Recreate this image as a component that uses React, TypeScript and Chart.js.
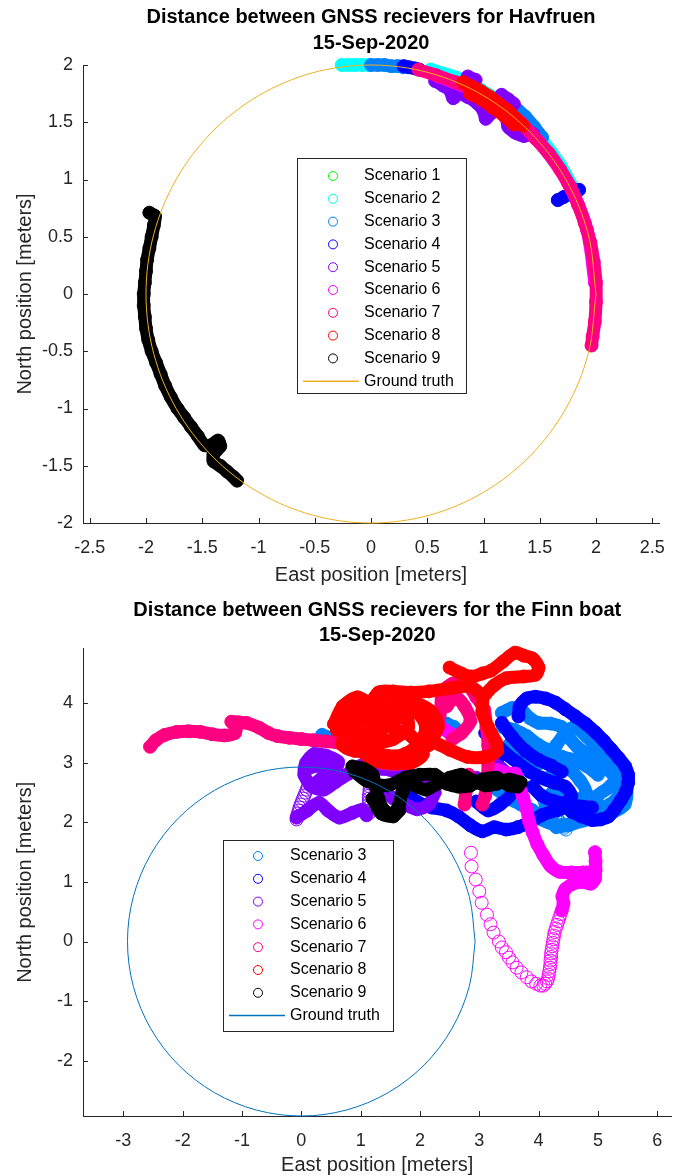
import { useEffect, useRef } from 'react';
import { Chart, registerables } from 'chart.js';

Chart.register(...registerables);

type Pt = [number, number];

const FONT = '"Liberation Sans", Arial, Helvetica, sans-serif';
const AXIS_COLOR = '#262626';

// ---------- colours ----------
const COLOR_S1 = '#00FF00';
const COLOR_S2 = '#00FFFF';
const COLOR_S3 = '#0080FF';
const COLOR_S4 = '#0000FF';
const COLOR_S5 = '#8000FF';
const COLOR_S6 = '#FF00FF';
const COLOR_S7 = '#FF0080';
const COLOR_S8 = '#FF0000';
const COLOR_S9 = '#000000';
const HAV_TRUTH_COLOR = '#EDB120';
const FINN_TRUTH_COLOR = '#0072BD';

// ================= Havfruen (top chart) =================
const HAV_TITLE = ['Distance between GNSS recievers for Havfruen', '15-Sep-2020'];
const HAV_X_TICKS = [-2.5, -2, -1.5, -1, -0.5, 0, 0.5, 1, 1.5, 2, 2.5];
const HAV_Y_TICKS = [-2, -1.5, -1, -0.5, 0, 0.5, 1, 1.5, 2];
const HAV_X_RANGE = [-2.56, 2.56];
const HAV_Y_RANGE = [-2, 2];

const HAV_S1: Pt[] = [[1.18, 1.62], [1.3, 1.52], [1.42, 1.41], [1.53, 1.29], [1.63, 1.16]];
const HAV_S2_TOP: Pt[] = [[-0.26, 2.0], [-0.2, 2.0], [-0.14, 2.0], [-0.08, 2.0], [-0.02, 2.0]];
const HAV_S2_ARC: Pt[] = [[0.53, 1.96], [0.76, 1.89], [0.98, 1.78], [1.17, 1.66], [1.36, 1.5], [1.53, 1.33], [1.68, 1.13], [1.8, 0.92]];
const HAV_S3_TOP: Pt[] = [[0.0, 2.0], [0.06, 2.0], [0.12, 2.0], [0.18, 1.99], [0.24, 1.99], [0.29, 1.98]];
const HAV_S3_ARC: Pt[] = [[1.3, 1.61], [1.37, 1.55], [1.45, 1.46], [1.52, 1.37]];
const HAV_S4_TOP: Pt[] = [[0.29, 1.99], [0.34, 1.98], [0.39, 1.97], [0.43, 1.96]];
const HAV_S4_BLOB: Pt[] = [[1.66, 0.82], [1.71, 0.845], [1.76, 0.87], [1.81, 0.89], [1.85, 0.91]];
const HAV_S5_MAIN: Pt[] = [[0.57, 1.86], [0.64, 1.82], [0.7, 1.78], [0.73, 1.71], [0.78, 1.75], [0.86, 1.72], [0.94, 1.67], [1.0, 1.6], [1.02, 1.53], [1.07, 1.58], [1.14, 1.6], [1.2, 1.54], [1.22, 1.46], [1.28, 1.41], [1.36, 1.38], [1.44, 1.4]];
const HAV_S5_EDGE_A: Pt[] = [[0.86, 1.9], [0.93, 1.87]];
const HAV_S5_EDGE_B: Pt[] = [[1.16, 1.74], [1.22, 1.7], [1.27, 1.66]];
const HAV_S6: Pt[] = [[0.6, 1.9], [0.9, 1.78], [1.2, 1.6], [1.5, 1.32], [1.75, 0.97], [1.92, 0.56], [1.99, 0.1]];
const HAV_S7: Pt[] = [[0.42, 1.96], [0.58, 1.91], [0.75, 1.85], [0.91, 1.78], [1.06, 1.7], [1.2, 1.6], [1.34, 1.49], [1.46, 1.36], [1.58, 1.23], [1.68, 1.09], [1.77, 0.94], [1.84, 0.78], [1.9, 0.62], [1.95, 0.45], [1.98, 0.28], [2.0, 0.1], [2.0, -0.07], [1.99, -0.24], [1.97, -0.37], [1.96, -0.45]];
const HAV_S8_A: Pt[] = [[0.82, 1.85], [0.9, 1.81], [0.98, 1.77], [1.06, 1.72], [1.14, 1.66], [1.22, 1.6], [1.29, 1.53], [1.35, 1.47]];
const HAV_S8_B: Pt[] = [[0.88, 1.75], [0.98, 1.7], [1.08, 1.63], [1.18, 1.56], [1.27, 1.48]];
const HAV_S9: Pt[] = [[-1.97, 0.71], [-1.92, 0.68], [-1.93, 0.6], [-1.95, 0.5], [-1.97, 0.4], [-1.99, 0.3], [-2.0, 0.2], [-2.01, 0.1], [-2.02, 0.0], [-2.02, -0.1], [-2.01, -0.2], [-2.0, -0.3], [-1.98, -0.4], [-1.95, -0.5], [-1.91, -0.6], [-1.87, -0.7], [-1.83, -0.8], [-1.78, -0.9], [-1.72, -1.0], [-1.66, -1.08], [-1.6, -1.16], [-1.54, -1.24], [-1.48, -1.32], [-1.42, -1.32], [-1.36, -1.28], [-1.34, -1.33], [-1.4, -1.4], [-1.4, -1.46], [-1.34, -1.5], [-1.28, -1.55], [-1.22, -1.6], [-1.19, -1.63]];
const HAV_TRUTH: Pt[] = [[2, 0], [1.932, 0.518], [1.732, 1], [1.414, 1.414], [1, 1.732], [0.518, 1.932], [0, 2], [-0.518, 1.932], [-1, 1.732], [-1.414, 1.414], [-1.732, 1], [-1.932, 0.518], [-2, 0], [-1.932, -0.518], [-1.732, -1], [-1.414, -1.414], [-1, -1.732], [-0.518, -1.932], [0, -2], [0.518, -1.932], [1, -1.732], [1.414, -1.414], [1.732, -1], [1.932, -0.518], [2, 0]];

// ================= Finn boat (bottom chart) =================
const FINN_TITLE = ['Distance between GNSS recievers for the Finn boat', '15-Sep-2020'];
const FINN_X_TICKS = [-3, -2, -1, 0, 1, 2, 3, 4, 5, 6];
const FINN_Y_TICKS = [-2, -1, 0, 1, 2, 3, 4];
const FINN_X_RANGE = [-3.68, 6.24];
const FINN_Y_RANGE = [-2.93, 4.92];

const FINN_S3_A: Pt[] = [[3.38, 3.84], [3.55, 3.92], [3.7, 3.9], [3.85, 3.75], [4.0, 3.67], [4.2, 3.66], [4.39, 3.6], [4.5, 3.44], [4.67, 3.25], [4.9, 3.12], [5.1, 2.95], [5.3, 2.75], [5.48, 2.55], [5.45, 2.3], [5.25, 2.17], [5.0, 2.08], [4.75, 2.03], [4.5, 1.95], [4.3, 1.92]];
const FINN_S3_B: Pt[] = [[4.12, 2.72], [4.3, 2.85], [4.5, 2.9], [4.7, 2.7], [4.8, 2.5], [4.65, 2.38], [4.45, 2.45], [4.3, 2.55], [4.15, 2.4], [4.1, 2.2]];
const FINN_S3_C: Pt[] = [[3.4, 3.6], [3.6, 3.55], [3.8, 3.45], [4.0, 3.3], [4.2, 3.2], [4.4, 3.1], [4.6, 3.05], [4.8, 2.95], [5.0, 2.8]];
const FINN_S3_G: Pt[] = [[3.5, 3.3], [3.7, 3.1], [3.9, 2.95], [4.1, 3.05], [4.3, 3.3], [4.45, 3.5], [4.6, 3.6], [4.8, 3.45], [5.0, 3.25], [5.2, 3.05], [5.35, 2.85], [5.2, 2.6], [5.0, 2.45], [4.95, 2.25], [5.2, 2.3], [5.4, 2.5]];
const FINN_S3_H: Pt[] = [[3.3, 2.55], [3.5, 2.4], [3.7, 2.3], [3.9, 2.2], [4.05, 2.05], [4.25, 1.97], [4.55, 1.98], [4.8, 2.12], [5.0, 2.3]];
const FINN_S3_D: Pt[] = [[0.35, 3.47], [0.5, 3.42]];
const FINN_S3_E: Pt[] = [[2.45, 3.66], [2.58, 3.6]];
const FINN_S3_F: Pt[] = [[2.15, 3.88], [2.25, 3.84]];
const FINN_S3_LADDER: Pt[] = [[4.1, 2.35], [4.13, 2.31], [4.16, 2.27], [4.19, 2.23], [4.22, 2.19], [4.25, 2.15], [4.28, 2.11], [4.31, 2.07], [4.34, 2.03], [4.37, 1.99], [4.4, 1.95], [4.43, 1.91], [4.46, 1.88]];

const FINN_S4_A: Pt[] = [[3.66, 3.78], [3.68, 3.95], [3.8, 4.08], [3.95, 4.11], [4.12, 4.08], [4.29, 4.01], [4.45, 3.9], [4.62, 3.78], [4.8, 3.65], [4.96, 3.51], [5.1, 3.37], [5.23, 3.22], [5.35, 3.08], [5.46, 2.94], [5.51, 2.8], [5.51, 2.67], [5.47, 2.52], [5.39, 2.38], [5.28, 2.22], [5.18, 2.1], [5.05, 2.05], [4.9, 2.04], [4.72, 2.1], [4.55, 2.18]];
const FINN_S4_B: Pt[] = [[3.1, 3.5], [3.25, 3.35], [3.45, 3.15], [3.65, 3.0], [3.85, 2.85], [4.05, 2.75], [4.25, 2.67], [4.45, 2.6], [4.55, 2.45], [4.45, 2.33], [4.25, 2.36], [4.05, 2.45], [3.9, 2.6]];
const FINN_S4_C: Pt[] = [[3.38, 3.67], [3.55, 3.44], [3.78, 3.2], [4.0, 3.05], [4.22, 2.95], [4.39, 2.85]];
const FINN_S4_LOW: Pt[] = [[1.75, 2.5], [1.95, 2.35], [2.2, 2.25], [2.45, 2.2], [2.65, 2.1], [2.85, 1.95], [3.05, 1.85], [3.25, 1.92], [3.45, 1.88], [3.65, 1.92], [3.85, 2.0], [4.05, 2.12], [4.3, 2.2], [4.6, 2.28], [4.9, 2.25]];
const FINN_S4_MID: Pt[] = [[2.95, 2.35], [3.15, 2.2], [3.35, 2.3], [3.55, 2.5], [3.45, 2.75], [3.3, 3.0]];

const FINN_S5_LOW: Pt[] = [[-0.08, 2.08], [0.1, 2.2], [0.3, 2.33], [0.45, 2.2], [0.64, 2.08], [0.86, 2.16], [1.03, 2.21], [1.1, 2.12]];
const FINN_S5_LADDER_L: Pt[] = [[-0.08, 2.05], [-0.07, 2.1], [-0.06, 2.15], [-0.04, 2.2], [-0.03, 2.25], [-0.01, 2.3], [0.01, 2.35], [0.03, 2.4], [0.05, 2.45], [0.07, 2.5], [0.09, 2.55], [0.11, 2.6]];
const FINN_S5_LADDER_R: Pt[] = [[1.14, 2.15], [1.14, 2.2], [1.14, 2.25], [1.14, 2.3], [1.14, 2.35], [1.14, 2.4], [1.14, 2.45], [1.15, 2.5], [1.15, 2.55], [1.16, 2.6], [1.17, 2.65]];
const FINN_S5_BLOB: Pt[] = [[0.15, 2.62], [0.05, 2.8], [0.08, 3.0], [0.22, 3.15], [0.42, 3.12], [0.62, 3.02], [0.55, 2.85], [0.35, 2.75], [0.2, 2.6], [0.38, 2.55], [0.58, 2.68], [0.8, 2.82], [1.0, 2.95]];
const FINN_S5_FILL: Pt[] = [[0.1, 2.9], [0.3, 2.95], [0.5, 2.9], [0.4, 2.7]];
const FINN_S5_MID: Pt[] = [[1.2, 2.9], [1.5, 2.88], [1.8, 2.8], [2.1, 2.72], [2.4, 2.72], [2.7, 2.75], [2.95, 2.75]];
const FINN_S5_LOWMID: Pt[] = [[1.4, 2.55], [1.55, 2.4], [1.75, 2.3], [1.95, 2.22], [2.15, 2.3], [2.25, 2.5]];
const FINN_S5_RIGHT: Pt[] = [[3.2, 3.02], [3.38, 2.9], [3.5, 2.8]];

const FINN_S6_A: Pt[] = [[3.3, 2.88], [3.48, 2.82], [3.61, 2.82], [3.67, 2.62], [3.74, 2.42], [3.8, 2.22], [3.84, 2.02], [3.9, 1.83], [3.98, 1.63], [4.08, 1.45], [4.2, 1.27], [4.35, 1.17], [4.55, 1.16], [4.75, 1.16], [4.9, 1.17]];
const FINN_S6_B: Pt[] = [[4.95, 1.5], [4.96, 1.35], [4.96, 1.2], [4.95, 1.05], [4.88, 0.97], [4.72, 1.0], [4.56, 0.96], [4.45, 0.88], [4.4, 0.76], [4.42, 0.64], [4.39, 0.52]];
const FINN_S6_C: Pt[] = [[2.1, 3.55], [2.3, 3.62], [2.5, 3.5]];
const FINN_S6_HATCH: Pt[] = [[4.37, 0.46], [4.35, 0.4], [4.33, 0.34], [4.31, 0.28], [4.29, 0.22], [4.27, 0.16], [4.26, 0.1], [4.25, 0.04], [4.24, -0.02], [4.23, -0.08], [4.22, -0.14], [4.21, -0.2], [4.21, -0.26], [4.2, -0.32], [4.2, -0.38], [4.19, -0.44], [4.18, -0.5], [4.17, -0.56], [4.16, -0.62], [4.14, -0.67], [4.11, -0.71], [4.08, -0.74]];
const FINN_S6_SPARSE: Pt[] = [[2.86, 1.49], [2.87, 1.26], [2.94, 1.04], [3.0, 0.84], [3.04, 0.65], [3.13, 0.45], [3.19, 0.29], [3.24, 0.15], [3.33, 0.0], [3.38, -0.1], [3.45, -0.18], [3.5, -0.27], [3.56, -0.35], [3.63, -0.44], [3.71, -0.52], [3.8, -0.6], [3.88, -0.67], [3.96, -0.71], [4.03, -0.74]];

const FINN_S7_MAIN: Pt[] = [[-2.55, 3.27], [-2.45, 3.38], [-2.3, 3.47], [-2.1, 3.52], [-1.9, 3.53], [-1.7, 3.52], [-1.5, 3.48], [-1.3, 3.46], [-1.12, 3.5], [-1.1, 3.6], [-1.18, 3.69], [-1.05, 3.68], [-0.92, 3.67], [-0.71, 3.59], [-0.55, 3.5], [-0.4, 3.45], [-0.2, 3.42], [0.0, 3.4], [0.2, 3.38], [0.42, 3.36], [0.65, 3.33], [0.9, 3.25], [1.15, 3.1], [1.35, 3.0], [1.6, 2.98], [1.9, 3.1], [2.15, 3.35], [2.3, 3.6], [2.35, 3.9], [2.38, 4.18], [2.55, 4.33], [2.8, 4.3], [2.95, 4.1], [3.08, 3.9], [3.12, 3.6], [3.15, 3.3], [3.15, 3.0], [3.13, 2.7], [3.1, 2.45], [3.05, 2.3]];
const FINN_S7_TOP: Pt[] = [[2.45, 3.95], [2.6, 4.1], [2.75, 3.95], [2.85, 3.7], [2.7, 3.5], [2.55, 3.4]];
const FINN_S7_LOW: Pt[] = [[2.75, 2.3], [2.78, 2.55], [2.82, 2.8]];

const FINN_S8_A: Pt[] = [[0.6, 3.55], [0.65, 3.75], [0.85, 3.85], [1.05, 4.0], [1.3, 4.05], [1.2, 3.85], [0.95, 3.7], [0.75, 3.5], [0.7, 3.3], [0.9, 3.2], [1.15, 3.2], [1.45, 3.12], [1.75, 3.15], [2.0, 3.35], [2.1, 3.6], [1.95, 3.85], [1.7, 3.95], [1.45, 3.85], [1.2, 3.6], [1.0, 3.45], [1.25, 3.35], [1.55, 3.4], [1.8, 3.6], [1.75, 3.8], [1.5, 3.65], [1.3, 3.55], [1.1, 3.8], [1.3, 4.18], [1.55, 4.2], [1.85, 4.18], [2.15, 4.2], [2.5, 4.25], [2.85, 4.28], [3.05, 4.1], [3.05, 3.85], [3.15, 3.6], [3.28, 3.35], [3.3, 3.2], [3.1, 3.1], [2.8, 3.1], [2.5, 3.22], [2.2, 3.35], [1.95, 3.3]];
const FINN_S8_B: Pt[] = [[2.5, 4.6], [2.7, 4.5], [2.87, 4.45], [3.05, 4.5], [3.2, 4.55], [3.4, 4.7], [3.6, 4.85], [3.75, 4.8], [3.9, 4.75], [4.0, 4.6], [3.95, 4.48], [3.75, 4.45], [3.45, 4.42], [3.25, 4.3], [3.1, 4.15]];
const FINN_S8_C: Pt[] = [[0.55, 3.65], [0.7, 3.95], [0.95, 4.1], [1.2, 3.95], [1.4, 3.75], [1.6, 3.55], [1.85, 3.45], [2.05, 3.15], [1.85, 3.0], [1.5, 3.0], [1.2, 3.05], [0.9, 3.35], [0.75, 3.7], [1.0, 3.9], [1.35, 3.95], [1.6, 4.05], [1.95, 4.0], [2.2, 3.85], [2.3, 3.6], [2.15, 3.3]];

const FINN_S9_A: Pt[] = [[0.86, 2.94], [1.05, 2.9], [1.2, 2.8], [1.25, 2.6], [1.3, 2.4], [1.4, 2.2], [1.55, 2.15], [1.65, 2.3], [1.7, 2.5], [1.8, 2.65], [1.95, 2.6], [2.1, 2.55], [2.3, 2.65], [2.5, 2.75], [2.7, 2.8], [2.9, 2.7], [3.1, 2.62], [3.3, 2.65], [3.5, 2.72], [3.7, 2.67]];
const FINN_S9_B: Pt[] = [[0.9, 2.85], [1.1, 2.7], [1.45, 2.62], [1.75, 2.75], [2.0, 2.8], [2.25, 2.8], [2.45, 2.65], [2.65, 2.6], [2.85, 2.62], [3.05, 2.72], [3.3, 2.75], [3.5, 2.62], [3.65, 2.6]];
const FINN_S9_C: Pt[] = [[1.2, 2.4], [1.35, 2.15], [1.55, 2.1], [1.65, 2.2]];

const FINN_TRUTH: Pt[] = [[2.93, 0], [2.83, 0.758], [2.537, 1.465], [2.072, 2.072], [1.465, 2.537], [0.758, 2.83], [0, 2.93], [-0.758, 2.83], [-1.465, 2.537], [-2.072, 2.072], [-2.537, 1.465], [-2.83, 0.758], [-2.93, 0], [-2.83, -0.758], [-2.537, -1.465], [-2.072, -2.072], [-1.465, -2.537], [-0.758, -2.83], [0, -2.93], [0.758, -2.83], [1.465, -2.537], [2.072, -2.072], [2.537, -1.465], [2.83, -0.758], [2.93, 0]];

// ---------- series tables ----------
interface Series { label: string; color: string; bands: Pt[][]; rings: Pt[][] }

const HAV_SERIES: Series[] = [
  { label: 'Scenario 1', color: COLOR_S1, bands: [HAV_S1], rings: [] },
  { label: 'Scenario 2', color: COLOR_S2, bands: [HAV_S2_TOP, HAV_S2_ARC], rings: [] },
  { label: 'Scenario 3', color: COLOR_S3, bands: [HAV_S3_TOP, HAV_S3_ARC], rings: [] },
  { label: 'Scenario 4', color: COLOR_S4, bands: [HAV_S4_TOP, HAV_S4_BLOB], rings: [] },
  { label: 'Scenario 5', color: COLOR_S5, bands: [HAV_S5_MAIN, HAV_S5_EDGE_A, HAV_S5_EDGE_B], rings: [] },
  { label: 'Scenario 6', color: COLOR_S6, bands: [HAV_S6], rings: [] },
  { label: 'Scenario 7', color: COLOR_S7, bands: [HAV_S7], rings: [] },
  { label: 'Scenario 8', color: COLOR_S8, bands: [HAV_S8_A, HAV_S8_B], rings: [] },
  { label: 'Scenario 9', color: COLOR_S9, bands: [HAV_S9], rings: [] },
];

const FINN_SERIES: Series[] = [
  { label: 'Scenario 3', color: COLOR_S3, bands: [FINN_S3_A, FINN_S3_B, FINN_S3_C, FINN_S3_G, FINN_S3_H, FINN_S3_D, FINN_S3_E, FINN_S3_F], rings: [FINN_S3_LADDER] },
  { label: 'Scenario 4', color: COLOR_S4, bands: [FINN_S4_A, FINN_S4_B, FINN_S4_C, FINN_S4_LOW, FINN_S4_MID], rings: [] },
  { label: 'Scenario 5', color: COLOR_S5, bands: [FINN_S5_LOW, FINN_S5_BLOB, FINN_S5_FILL, FINN_S5_MID, FINN_S5_LOWMID, FINN_S5_RIGHT], rings: [FINN_S5_LADDER_L, FINN_S5_LADDER_R] },
  { label: 'Scenario 6', color: COLOR_S6, bands: [FINN_S6_A, FINN_S6_B, FINN_S6_C], rings: [FINN_S6_HATCH, FINN_S6_SPARSE] },
  { label: 'Scenario 7', color: COLOR_S7, bands: [FINN_S7_MAIN, FINN_S7_TOP, FINN_S7_LOW], rings: [] },
  { label: 'Scenario 8', color: COLOR_S8, bands: [FINN_S8_A, FINN_S8_B, FINN_S8_C], rings: [] },
  { label: 'Scenario 9', color: COLOR_S9, bands: [FINN_S9_A, FINN_S9_B, FINN_S9_C], rings: [] },
];

// ---------- helpers ----------
const toXY = (pts: Pt[]) => pts.map(([x, y]) => ({ x, y }));

function buildDatasets(series: Series[], truth: Pt[], truthColor: string) {
  const ds: any[] = [];
  series.forEach((s) => {
    s.bands.forEach((b) =>
      ds.push({
        data: toXY(b),
        showLine: true,
        borderColor: s.color,
        backgroundColor: 'transparent',
        borderWidth: 13,
        borderJoinStyle: 'round',
        borderCapStyle: 'round',
        tension: 0.3,
        capBezierPoints: false,
        pointRadius: 6.5,
        pointBorderWidth: 1,
        pointBorderColor: s.color,
        pointBackgroundColor: 'transparent',
        clip: false,
      })
    );
    s.rings.forEach((b) =>
      ds.push({
        data: toXY(b),
        showLine: false,
        borderColor: s.color,
        backgroundColor: 'transparent',
        pointRadius: 6.5,
        pointBorderWidth: 1,
        pointBorderColor: s.color,
        pointBackgroundColor: 'transparent',
        clip: false,
      })
    );
  });
  ds.push({
    data: toXY(truth),
    showLine: true,
    borderColor: truthColor,
    backgroundColor: 'transparent',
    borderWidth: 1,
    tension: 0.338,
    capBezierPoints: false,
    pointRadius: 0,
    clip: false,
  });
  ds.forEach((d, i) => (d.order = ds.length - i));
  return ds;
}

const innerTicksPlugin = {
  id: 'innerTicks',
  afterDraw(chart: any) {
    const { ctx, chartArea, scales } = chart;
    ctx.save();
    ctx.strokeStyle = AXIS_COLOR;
    ctx.lineWidth = 1;
    ctx.beginPath();
    scales.x.ticks.forEach((t: any) => {
      const px = Math.round(scales.x.getPixelForValue(t.value)) + 0.5;
      ctx.moveTo(px, chartArea.bottom);
      ctx.lineTo(px, chartArea.bottom - 5);
    });
    scales.y.ticks.forEach((t: any) => {
      const py = Math.round(scales.y.getPixelForValue(t.value)) + 0.5;
      ctx.moveTo(chartArea.left, py);
      ctx.lineTo(chartArea.left + 5, py);
    });
    ctx.stroke();
    ctx.restore();
  },
};

const boxLegendPlugin = {
  id: 'boxLegend',
  afterDraw(chart: any, _args: any, opts: any) {
    const { ctx } = chart;
    const [x1, y1, x2, y2] = opts.box;
    ctx.save();
    ctx.fillStyle = '#ffffff';
    ctx.fillRect(x1, y1, x2 - x1, y2 - y1);
    ctx.strokeStyle = AXIS_COLOR;
    ctx.lineWidth = 1;
    ctx.strokeRect(x1 + 0.5, y1 + 0.5, x2 - x1, y2 - y1);
    ctx.font = `16px ${FONT}`;
    ctx.textBaseline = 'middle';
    ctx.textAlign = 'left';
    const items = opts.items;
    for (let i = 0; i < items.length; i++) {
      const it = items[i];
      const y = opts.rowY0 + i * opts.rowStep;
      ctx.strokeStyle = it.color;
      ctx.beginPath();
      if (it.kind === 'line') {
        ctx.lineWidth = 1.5;
        ctx.moveTo(opts.lineX1, y);
        ctx.lineTo(opts.lineX2, y);
      } else {
        ctx.lineWidth = 1;
        ctx.arc(opts.markerX, y, 4.5, 0, Math.PI * 2);
      }
      ctx.stroke();
      ctx.fillStyle = '#000000';
      ctx.fillText(it.label, opts.textX, y);
    }
    ctx.restore();
  },
};

interface ChartSpec {
  title: string[];
  series: Series[];
  truth: Pt[];
  truthColor: string;
  xRange: number[];
  yRange: number[];
  xTicks: number[];
  yTicks: number[];
  padRight: number;
  xAxisHeight: number;
  titlePadTop: number;
  titlePadBottom: number;
  titleLineHeight: number;
  xTitlePadBottom: number;
  legend: any;
}

function makeConfig(p: ChartSpec): any {
  const legendItems = p.series
    .map((s) => ({ label: s.label, color: s.color, kind: 'marker' }))
    .concat([{ label: 'Ground truth', color: p.truthColor, kind: 'line' }]);
  return {
    type: 'scatter',
    data: { datasets: buildDatasets(p.series, p.truth, p.truthColor) },
    options: {
      animation: false,
      responsive: false,
      events: [],
      layout: { padding: { left: 0, right: p.padRight, top: 0, bottom: 0 } },
      plugins: {
        legend: { display: false },
        tooltip: { enabled: false },
        title: {
          display: true,
          text: p.title,
          color: '#000000',
          fullSize: false,
          font: { family: FONT, size: 20, weight: 'bold', lineHeight: p.titleLineHeight },
          padding: { top: p.titlePadTop, bottom: p.titlePadBottom },
        },
        boxLegend: { ...p.legend, items: legendItems },
      },
      scales: {
        x: {
          type: 'linear',
          position: 'bottom',
          min: p.xRange[0],
          max: p.xRange[1],
          afterBuildTicks: (s: any) => {
            s.ticks = p.xTicks.map((v) => ({ value: v }));
          },
          afterFit: (s: any) => {
            s.height = p.xAxisHeight;
          },
          grid: { display: false, drawTicks: false },
          border: { display: true, color: AXIS_COLOR, width: 1 },
          ticks: {
            color: AXIS_COLOR,
            font: { family: FONT, size: 18 },
            padding: 14,
            autoSkip: false,
            maxRotation: 0,
            minRotation: 0,
            callback: (v: any) => String(v),
          },
          title: {
            display: true,
            text: 'East position [meters]',
            color: AXIS_COLOR,
            font: { family: FONT, size: 20, lineHeight: 1.1 },
            padding: { top: 0, bottom: p.xTitlePadBottom },
          },
        },
        y: {
          type: 'linear',
          position: 'left',
          min: p.yRange[0],
          max: p.yRange[1],
          afterBuildTicks: (s: any) => {
            s.ticks = p.yTicks.map((v) => ({ value: v }));
          },
          afterFit: (s: any) => {
            s.width = 83;
          },
          grid: { display: false, drawTicks: false },
          border: { display: true, color: AXIS_COLOR, width: 1 },
          ticks: {
            color: AXIS_COLOR,
            font: { family: FONT, size: 18 },
            padding: 10,
            autoSkip: false,
            callback: (v: any) => String(v),
          },
          title: {
            display: true,
            text: 'North position [meters]',
            color: AXIS_COLOR,
            font: { family: FONT, size: 20, lineHeight: 1.2 },
            padding: { top: 13, bottom: 0 },
          },
        },
      },
    },
    plugins: [innerTicksPlugin, boxLegendPlugin],
  };
}

const HAV_SPEC: ChartSpec = {
  title: HAV_TITLE,
  series: HAV_SERIES,
  truth: HAV_TRUTH,
  truthColor: HAV_TRUTH_COLOR,
  xRange: HAV_X_RANGE,
  yRange: HAV_Y_RANGE,
  xTicks: HAV_X_TICKS,
  yTicks: HAV_Y_TICKS,
  padRight: 8,
  xAxisHeight: 65,
  titlePadTop: 4,
  titlePadBottom: 9,
  titleLineHeight: 1.3,
  xTitlePadBottom: 2,
  legend: { box: [297, 158, 466, 393], rowY0: 176, rowStep: 22.8, markerX: 333, textX: 364, lineX1: 303, lineX2: 359 },
};

const FINN_SPEC: ChartSpec = {
  title: FINN_TITLE,
  series: FINN_SERIES,
  truth: FINN_TRUTH,
  truthColor: FINN_TRUTH_COLOR,
  xRange: FINN_X_RANGE,
  yRange: FINN_Y_RANGE,
  xTicks: FINN_X_TICKS,
  yTicks: FINN_Y_TICKS,
  padRight: 6,
  xAxisHeight: 60,
  titlePadTop: 9.5,
  titlePadBottom: 0,
  titleLineHeight: 1.275,
  xTitlePadBottom: 0,
  legend: { box: [223, 252, 393, 443], rowY0: 268, rowStep: 22.8, markerX: 258, textX: 290, lineX1: 229, lineX2: 285 },
};

function ScatterPanel({ spec }: { spec: ChartSpec }) {
  const ref = useRef<HTMLCanvasElement>(null);
  useEffect(() => {
    if (!ref.current) return;
    const chart = new Chart(ref.current, makeConfig(spec));
    return () => chart.destroy();
  }, [spec]);
  return <canvas ref={ref} width={679} height={588} style={{ display: 'block', width: 679, height: 588 }} />;
}

export default function App() {
  return (
    <div style={{ position: 'absolute', left: 0, top: 0, width: 679, height: 1176, background: '#ffffff' }}>
      <ScatterPanel spec={HAV_SPEC} />
      <ScatterPanel spec={FINN_SPEC} />
    </div>
  );
}
